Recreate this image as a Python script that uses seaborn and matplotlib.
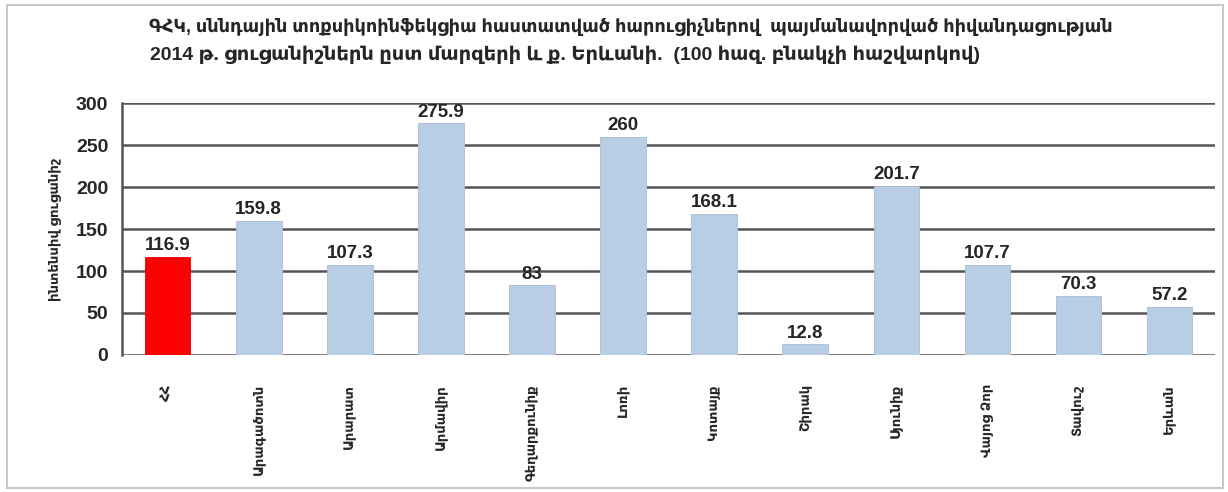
import matplotlib
matplotlib.use("Agg")
import matplotlib.pyplot as plt
import seaborn as sns
from matplotlib.patches import Rectangle

regions = ["ՀՀ", "Արագածոտն", "Արարատ", "Արմավիր", "Գեղարքունիք", "Լոռի",
           "Կոտայք", "Շիրակ", "Սյունիք", "Վայոց Ձոր", "Տավուշ", "Երևան"]
rates = [116.9, 159.8, 107.3, 275.9, 83, 260, 168.1, 12.8, 201.7, 107.7, 70.3, 57.2]
bar_colors = ["#ff0000"] + ["#b9cde5"] * 11
y_ticks = [0, 50, 100, 150, 200, 250, 300]
title_lines = ["ԳՀԿ, սննդային տոքսիկոինֆեկցիա հաստատված հարուցիչներով  պայմանավորված հիվանդացության",
               "2014 թ. ցուցանիշներն ըստ մարզերի և ք. Երևանի.  (100 հազ. բնակչի հաշվարկով)"]
y_label = "ինտենսիվ ցուցանիշ"

sns.set_theme(style="white")
plt.rcParams["font.family"] = ["Liberation Sans", "DejaVu Sans"]

fig = plt.figure(figsize=(12.28, 4.92), dpi=100)
fig.patches.append(Rectangle((0.006, 0.008), 0.99, 0.982, transform=fig.transFigure,
                             fill=False, edgecolor="#c8c8c8", linewidth=1.5))
ax = fig.add_axes([0.0995, 0.2785, 0.890, 0.512])

sns.barplot(x=regions, y=rates, hue=regions, palette=bar_colors, legend=False,
            saturation=1, width=0.5, ax=ax, edgecolor="#a9bdd6", linewidth=0.6, zorder=3)
ax.patches[0].set_edgecolor("#e00000")

ax.set_ylim(0, 300)
ax.set_xlim(-0.5, len(regions) - 0.5)
ax.set_yticks(y_ticks)
ax.set_yticklabels([str(t) for t in y_ticks], fontsize=14, fontweight="bold")
ax.yaxis.grid(True, color="#555555", linewidth=1.8, zorder=0)
ax.set_axisbelow(True)
for s in ["top", "right", "bottom"]:
    ax.spines[s].set_visible(False)
ax.spines["left"].set_color("#555555")
ax.spines["left"].set_linewidth(1.8)
ax.tick_params(axis="y", direction="out", length=7, width=1.5, color="#555555", pad=3)
ax.tick_params(axis="x", length=0, pad=21)
ax.set_xticks(range(len(regions)))
ax.set_xticklabels(regions, rotation=90, fontsize=9.5, fontweight="bold", va="top")

for i, v in enumerate(rates):
    ax.text(i, v + 3, f"{v:g}", ha="center", va="bottom", fontsize=13.5, fontweight="bold")

ax.set_ylabel(y_label, fontsize=9.5, fontweight="bold", labelpad=10)
ax.set_xlabel("")

fig.text(0.121, 0.945, title_lines[0], fontsize=12.8, fontweight="bold", ha="left", va="center")
fig.text(0.122, 0.888, title_lines[1], fontsize=14, fontweight="bold", ha="left", va="center")

fig.savefig("out.png", dpi=100)
